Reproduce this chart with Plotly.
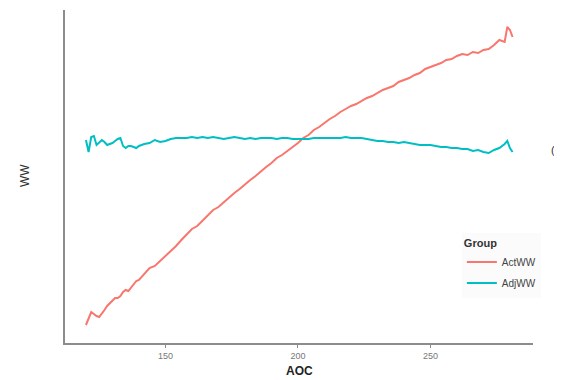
import plotly.graph_objects as go

# AOC values (1-unit steps up to 140, then 2-unit steps, plus end points)
aoc = list(range(120, 141)) + list(range(142, 279, 2)) + [279, 280, 281]

# Read-off heights on an arbitrary WW scale (y axis carries no labels)
act_ww = [1.8, 2.5, 3.1, 2.9, 2.7, 2.6, 2.9, 3.3, 3.7, 4.0, 4.3, 4.5, 4.5, 4.7, 5.1, 5.3, 5.2, 5.5, 5.9, 6.2, 6.3,
          6.9, 7.5, 7.7, 8.2, 8.7, 9.1, 9.7, 10.3, 10.9, 11.4, 11.7, 12.2, 12.7, 13.3, 13.6, 14.1, 14.5, 15.0,
          15.4, 15.9, 16.3, 16.7, 17.2, 17.6, 18.0, 18.5, 18.8, 19.2, 19.6, 20.0, 20.5, 20.8, 21.3, 21.6, 22.0,
          22.4, 22.7, 23.1, 23.4, 23.7, 23.9, 24.2, 24.5, 24.7, 25.0, 25.3, 25.5, 25.7, 26.1, 26.3, 26.5, 26.8,
          27.0, 27.4, 27.6, 27.8, 28.0, 28.3, 28.4, 28.7, 28.9, 28.8, 29.1, 29.0, 29.3, 29.4, 29.8, 30.3, 30.1,
          31.6, 31.3, 30.6]
adj_ww = [20.3, 19.1, 20.6, 20.7, 19.8, 20.1, 20.3, 20.1, 19.8, 19.9, 20.0, 20.2, 20.4, 20.5, 19.7, 19.5, 19.7,
          19.7, 19.6, 19.5, 19.7,
          19.9, 20.0, 20.3, 20.1, 20.2, 20.4, 20.5, 20.5, 20.5, 20.6, 20.5, 20.6, 20.5, 20.6, 20.5, 20.4, 20.5,
          20.6, 20.5, 20.4, 20.5, 20.4, 20.5, 20.5, 20.5, 20.4, 20.5, 20.5, 20.4, 20.4, 20.4, 20.4, 20.5, 20.5,
          20.5, 20.5, 20.5, 20.5, 20.6, 20.5, 20.5, 20.5, 20.4, 20.3, 20.2, 20.2, 20.1, 20.1, 20.0, 20.1, 20.0,
          19.9, 19.8, 19.8, 19.8, 19.7, 19.6, 19.6, 19.5, 19.5, 19.4, 19.4, 19.2, 19.3, 19.1, 19.0, 19.3, 19.5,
          19.9, 20.2, 19.5, 19.1]

x_ticks = [150, 200, 250]

fig = go.Figure()
fig.add_trace(go.Scatter(x=aoc, y=act_ww, mode="lines", name="ActWW", legendgroup="a",
                         line=dict(color="#F8766D", width=2)))
fig.add_trace(go.Scatter(x=aoc, y=adj_ww, mode="lines", name="AdjWW", legendgroup="b",
                         line=dict(color="#00BFC4", width=2)))

axis_col = "#8c8c8c"
fig.update_layout(
    width=562, height=380,
    margin=dict(l=57, r=37, t=2, b=45),
    paper_bgcolor="white", plot_bgcolor="white",
    font=dict(family="Liberation Sans, Arial, sans-serif", color="#222"),
    xaxis=dict(range=[112.1, 288.7], tickvals=x_ticks, ticktext=[str(t) for t in x_ticks],
               showgrid=False, zeroline=False, showline=True, linecolor=axis_col, linewidth=2,
               ticks="outside", ticklen=3, tickcolor=axis_col, tickwidth=1,
               tickfont=dict(size=9, color="#777"), automargin=False),
    yaxis=dict(range=[0, 33.3], showticklabels=False, showgrid=False, zeroline=False,
               showline=True, linecolor=axis_col, linewidth=2, ticks="", automargin=False),
    legend=dict(x=0.848, y=0.33, xanchor="left", yanchor="top",
                bgcolor="#fbfbfb", borderwidth=0,
                title=dict(text="<b>Group</b>", font=dict(size=11, color="#333")),
                font=dict(size=10, color="#444"), itemwidth=30, tracegroupgap=2),
    showlegend=True,
)
pw, ph = 468, 333
fig.add_annotation(x=0.5, y=(343 - 371) / ph, xref="paper", yref="paper", text="<b>AOC</b>",
                   xanchor="center", yanchor="middle",
                   showarrow=False, font=dict(size=12, color="#222"))
fig.add_annotation(x=(25 - 65) / pw, y=(343 - 176) / ph, xref="paper", yref="paper", text="WW",
                   xanchor="center", yanchor="middle",
                   showarrow=False, textangle=-90, font=dict(size=12, color="#333"))
fig.add_annotation(x=(557 - 65) / pw, y=(343 - 150) / ph, xref="paper", yref="paper", text="(",
                   xanchor="right", yanchor="middle",
                   showarrow=False, font=dict(size=11, color="#333"))

fig.write_html("out.html")
